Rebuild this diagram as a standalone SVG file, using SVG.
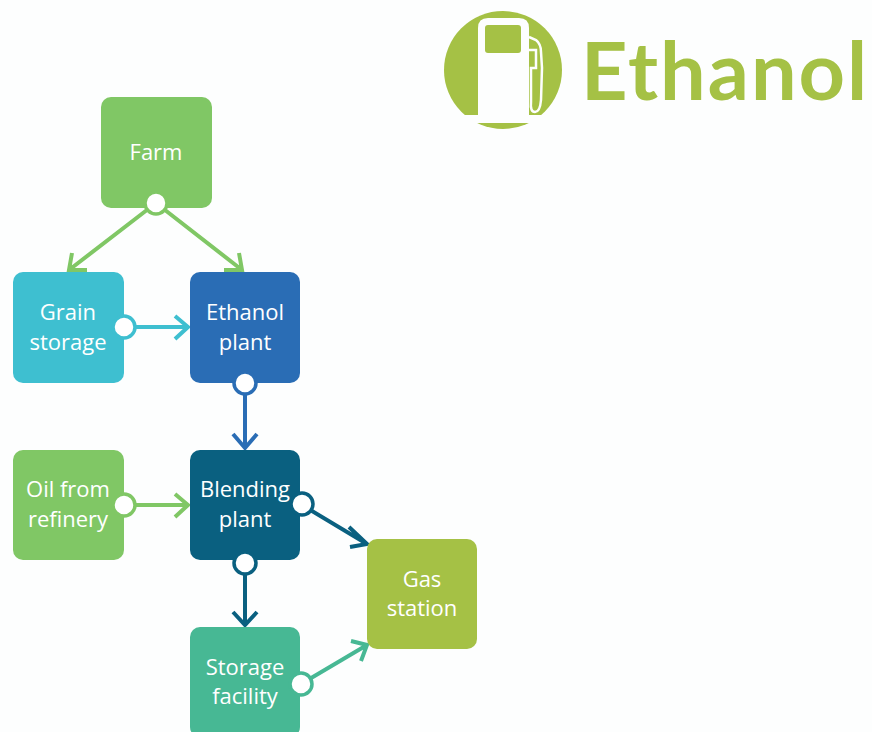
<svg xmlns="http://www.w3.org/2000/svg" width="872" height="732" viewBox="0 0 872 732">
<style>
.n{font-family:"Open Sans","Liberation Sans",sans-serif;font-size:22px;fill:#fff;text-anchor:middle}
.c{fill:none;stroke-width:4;stroke-linecap:butt;stroke-linejoin:miter}
.d{fill:#fff;stroke-width:3.5}
</style>
<rect width="872" height="732" fill="#fdfefe"/>
<g id="logo">
<circle cx="503" cy="70" r="59" fill="#a5c145"/>
<rect x="440" y="115" width="126" height="8" fill="#fdfefe"/>
<path d="M478 116V28Q478 18 488 18H519Q529 18 529 28V116Z" fill="#fdfefe"/>
<rect x="485" y="25" width="36" height="28" rx="3" fill="#a5c145"/>
<path d="M529 37L536 40Q541 44 541 52L542 68L541 100Q540 112 535 112Q530 112 531 102V68H536V50H529" fill="none" stroke="#fdfefe" stroke-width="2.5"/>
<text x="581" y="100" font-family="Lato,'Open Sans','Liberation Sans',sans-serif" font-weight="700" font-size="81" letter-spacing="2" fill="#a5c145">Ethanol</text>
</g>
<g id="connectors">
<path class="c" stroke="#80c765" d="M156 203L69 270M72 253L69 270L87 270"/>
<path class="c" stroke="#80c765" d="M156 203L242 270M239 253L242 270L224 270"/>
<path class="c" stroke="#3ebfd0" d="M124 327H188M175 316L188 327L175 339"/>
<path class="c" stroke="#2a6db5" d="M245 383V448M233 434L245 448L257 434"/>
<path class="c" stroke="#80c765" d="M124 505H188M175 494L188 505L175 517"/>
<path class="c" stroke="#0a6080" d="M302 505L367 544M349 527L367 544L350 547"/>
<path class="c" stroke="#0a6080" d="M245 564V625M233 612L245 625L257 612"/>
<path class="c" stroke="#47b894" d="M301 684L367 645M351 641L367 645L361 661"/>
</g>
<g id="farm"><rect x="101" y="97" width="111" height="111" rx="10" fill="#80c765"/><text class="n" x="156" y="160">Farm</text><circle class="d" cx="156" cy="203" r="11" stroke="#80c765"/></g>
<g id="grain-storage"><rect x="13" y="272" width="111" height="111" rx="10" fill="#3ebfd0"/><text class="n" x="68" y="320">Grain</text><text class="n" x="68" y="350">storage</text><circle class="d" cx="124" cy="327" r="11" stroke="#3ebfd0"/></g>
<g id="ethanol-plant"><rect x="190" y="272" width="110" height="111" rx="10" fill="#2a6db5"/><text class="n" x="245" y="320">Ethanol</text><text class="n" x="245" y="350">plant</text><circle class="d" cx="245" cy="383" r="11" stroke="#2a6db5"/></g>
<g id="oil-refinery"><rect x="13" y="450" width="111" height="110" rx="10" fill="#80c765"/><text class="n" x="68" y="497">Oil from</text><text class="n" x="68" y="527">refinery</text><circle class="d" cx="124" cy="505" r="11" stroke="#80c765"/></g>
<g id="blending-plant"><rect x="190" y="450" width="110" height="110" rx="10" fill="#0a6080"/><text class="n" x="245" y="497">Blending</text><text class="n" x="245" y="527">plant</text><circle class="d" cx="302" cy="504" r="11" stroke="#0a6080"/><circle class="d" cx="245" cy="563" r="11" stroke="#0a6080"/></g>
<g id="gas-station"><rect x="367" y="539" width="110" height="110" rx="10" fill="#a5c145"/><text class="n" x="422" y="587">Gas</text><text class="n" x="422" y="616">station</text></g>
<g id="storage-facility"><rect x="190" y="627" width="110" height="110" rx="10" fill="#47b894"/><text class="n" x="245" y="675">Storage</text><text class="n" x="245" y="704">facility</text><circle class="d" cx="301" cy="684" r="11" stroke="#47b894"/></g>
</svg>
